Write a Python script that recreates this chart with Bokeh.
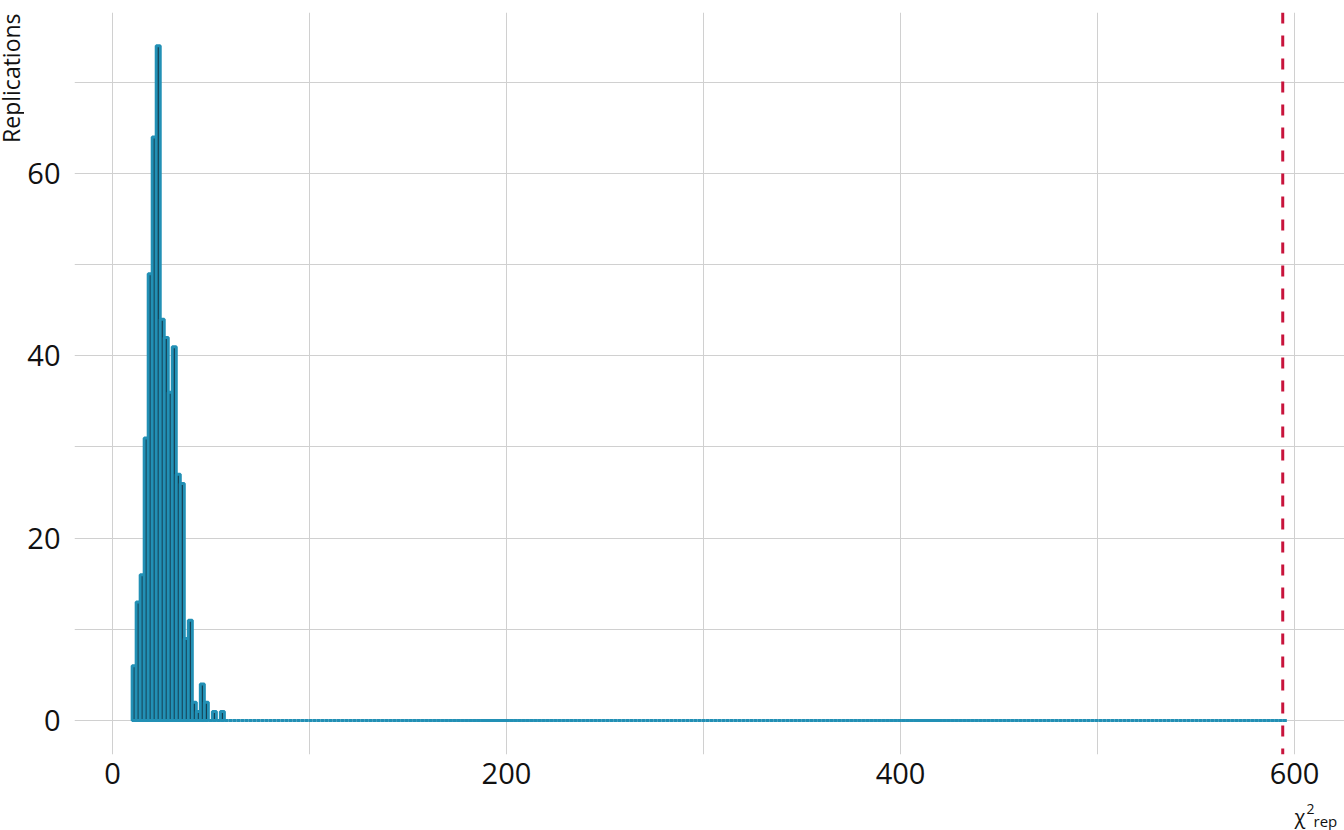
import numpy as np
from bokeh.plotting import figure
from bokeh.layouts import column, row
from bokeh.models import Range1d, FixedTicker, Span
from bokeh.core.properties import value
from bokeh.embed import file_html
from bokeh.resources import INLINE

# histogram of replicated chi-square statistics (500 replications)
bin_start = 10.0
bin_width = 2.035
counts = [6, 13, 16, 31, 49, 64, 74, 44, 42, 36, 41, 27, 26, 9, 11,
          2, 1, 4, 2, 0, 1, 0, 1] + [0] * 265
observed = 594.0

x_ticks = [0, 200, 400, 600]
x_minor = [100, 300, 500]
y_ticks = [0, 20, 40, 60]
y_minor = [10, 30, 50, 70]

FONT = "Open Sans"
GRID = "#d0d0d0"
INK = "#111111"

edges = bin_start + bin_width * np.arange(len(counts) + 1)

# main panel
p = figure(width=1320, height=800,
           x_range=Range1d(-19.27, 625.35), y_range=Range1d(-3.73, 77.66),
           output_backend="svg", toolbar_location=None,
           min_border_left=49, min_border_right=0,
           min_border_top=12, min_border_bottom=46)
p.outline_line_color = None

p.quad(left=edges[:-1], right=edges[1:], top=counts, bottom=0,
       fill_color="#14303f", line_color="#2290b5", line_width=3)

p.add_layout(Span(location=observed, dimension="height",
                  line_color="#c8143c", line_width=3, line_dash="11 12"))

for ax, ticks, minor in ((p.xaxis, x_ticks, x_minor), (p.yaxis, y_ticks, y_minor)):
    ax.ticker = FixedTicker(ticks=ticks, minor_ticks=minor)
    ax.axis_line_color = None
    ax.major_tick_line_color = None
    ax.minor_tick_line_color = None
    ax.major_label_text_font = FONT
    ax.major_label_text_font_size = "29px"
    ax.major_label_text_color = INK
p.xaxis.major_label_standoff = 2
p.yaxis.major_label_standoff = 8

for g in (p.xgrid, p.ygrid):
    g.grid_line_color = GRID
    g.minor_grid_line_color = GRID
    g.grid_line_width = 1
    g.minor_grid_line_width = 1


def text_strip(w, h):
    f = figure(width=w, height=h, x_range=Range1d(0, w), y_range=Range1d(0, h),
               x_axis_type=None, y_axis_type=None, output_backend="svg",
               toolbar_location=None, min_border=0)
    f.outline_line_color = None
    f.grid.visible = False
    return f


# y title, rotated, at the top left
left = text_strip(24, 800)
left.text(x=[10.5], y=[799], text=["Replications"], angle=np.pi / 2,
          text_align="right", text_baseline="alphabetic",
          text_font=value(FONT), text_font_size="23px", text_color=INK)

# x title, chi^2_rep, at the bottom right
bottom = text_strip(1344, 30)
bottom.text(x=[1294], y=[14], text=["χ"], text_baseline="alphabetic",
            text_font=value(FONT), text_font_size="20px", text_color=INK)
bottom.text(x=[1306], y=[22], text=["2"], text_baseline="alphabetic",
            text_font=value(FONT), text_font_size="14px", text_color=INK)
bottom.text(x=[1313], y=[10], text=["rep"], text_baseline="alphabetic",
            text_font=value(FONT), text_font_size="15px", text_color=INK)

layout = column(row(left, p), bottom)

open("out.html", "w").write(file_html(layout, INLINE))
